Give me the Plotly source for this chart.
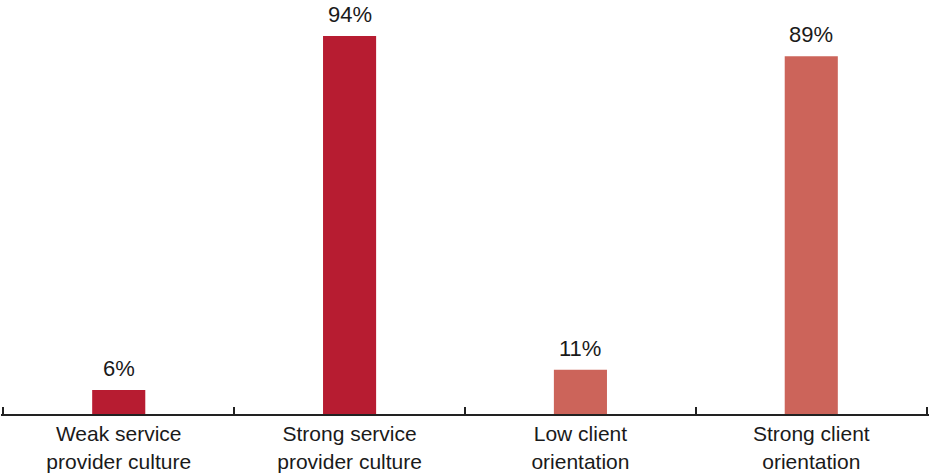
import plotly.graph_objects as go

categories = ["Weak service<br>provider culture", "Strong service<br>provider culture",
              "Low client<br>orientation", "Strong client<br>orientation"]
values = [6, 94, 11, 89]
labels = ["6%", "94%", "11%", "89%"]
colors = ["#B71C31", "#B71C31", "#CC645A", "#CC645A"]

FONT = "Liberation Sans, Arial, Helvetica, sans-serif"
TEXT_COLOR = "#1a1a1a"

fig = go.Figure(
    go.Bar(
        x=categories,
        y=values,
        marker=dict(color=colors, line=dict(width=0)),
        hoverinfo="skip",
    )
)

for cat, val, lab in zip(categories, values, labels):
    fig.add_annotation(
        x=cat, y=val, text=lab, showarrow=False,
        yanchor="bottom", yshift=7,
        font=dict(family=FONT, size=22, color=TEXT_COLOR),
    )

fig.update_layout(
    width=929, height=474,
    margin=dict(l=1, r=0, t=12, b=60),
    paper_bgcolor="white", plot_bgcolor="white",
    bargap=0.77,
    showlegend=False,
    font=dict(family=FONT, size=21, color=TEXT_COLOR),
)

fig.update_xaxes(
    type="category",
    range=[-0.51, 3.51],
    automargin=False,
    showline=True, linecolor="#222222", linewidth=2,
    ticks="inside", tickson="boundaries", ticklen=7, tickwidth=1.5, tickcolor="#222222",
    showgrid=False, zeroline=False,
    tickfont=dict(family=FONT, size=21, color=TEXT_COLOR),
)
fig.update_yaxes(
    range=[0, 100], visible=False, showgrid=False, zeroline=False,
)

fig.write_html("out.html")
